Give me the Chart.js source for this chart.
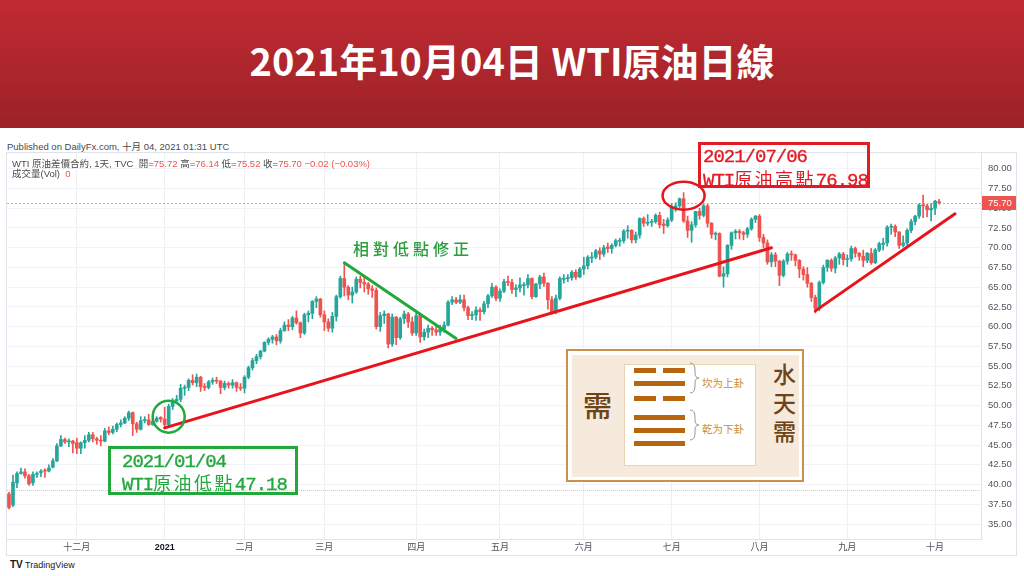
<!DOCTYPE html>
<html>
<head>
<meta charset="utf-8">
<script src="https://cdn.jsdelivr.net/npm/chart.js@4.4.1/dist/chart.umd.min.js"></script>
<style>
  body { margin: 0; width: 1024px; height: 576px; position: relative; overflow: hidden; background: #fff;
         font-family: 'Liberation Sans', 'Noto Sans CJK TC', sans-serif; }
  .abs { position: absolute; white-space: nowrap; }
  #head { left: 0; top: 0; width: 1024px; height: 128px; background: linear-gradient(#c02b32, #9d2128); }
  #title { left: 0; width: 1024px; top: 32px; line-height: 52px; text-align: center; color: #fff;
           font: bold 38px 'Noto Sans CJK TC', sans-serif; }
  #pub { left: 7px; top: 139px; font-size: 9.5px; color: #4a4a4a; }
  #frame { left: 6px; top: 152px; width: 1009px; height: 402px; border: 1px solid #e0e3eb; }
  #chart { position: absolute; left: 7px; top: 153px; }
  .leg { left: 12px; font-size: 9.5px; color: #4a4a4a; }
  .leg b { font-weight: normal; color: #ef5350; }
  .box { box-sizing: border-box; border: 3px solid; }
  .note { font-family: 'Liberation Mono', monospace; font-size: 19px; letter-spacing: -1px; line-height: 20px;
          -webkit-text-stroke: 0.35px; }
  .note .cj { font-family: 'Noto Sans CJK TC'; font-size: 18px; letter-spacing: 2.4px; -webkit-text-stroke: 0; }
  #tv { left: 10px; top: 559px; font-size: 9px; color: #131722; }
  .bar { position: absolute; height: 5px; background: #b5660f; }
</style>
</head>
<body>
<div id="head" class="abs"></div>
<div id="title" class="abs">2021年10月04日 WTI原油日線</div>
<div id="pub" class="abs">Published on DailyFx.com, 十月 04, 2021 01:31 UTC</div>
<div id="frame" class="abs"></div>
<canvas id="chart" width="1009" height="403"></canvas>
<div class="abs leg" style="top:156px">WTI 原油差價合約, 1天, TVC &nbsp;開=<b>75.72</b> 高=<b>76.14</b> 低=<b>75.52</b> 收=<b>75.70</b> <b>−0.02 (−0.03%)</b></div>
<div class="abs leg" style="top:166px">成交量(Vol) &nbsp;<b>0</b></div>

<!-- note boxes -->
<div class="abs box" style="left:108px;top:446px;width:190px;height:49px;border-color:#22a83b"></div>
<div class="abs note" style="left:122px;top:452px;color:#22a83b">2021/01/04</div>
<div class="abs note" style="left:122px;top:472px;color:#22a83b">WTI<span class="cj">原油低點</span>47.18</div>
<div class="abs box" style="left:698px;top:142px;width:172px;height:46px;border-color:#e31b23"></div>
<div class="abs note" style="left:703px;top:147px;color:#e31b23">2021/07/06</div>
<div class="abs note" style="left:703px;top:168px;color:#e31b23">WTI<span class="cj">原油高點</span>76.98</div>
<div class="abs" style="left:353px;top:240px;font:500 16px 'Noto Sans CJK TC';letter-spacing:4px;line-height:16px;color:#2a9d3c">相對低點修正</div>

<!-- hexagram card -->
<div class="abs" style="left:566px;top:349px;width:238px;height:133px;box-sizing:border-box;border:2px solid #c9924c;background:#fff"></div>
<div class="abs" style="left:572px;top:355px;width:227px;height:122px;background:#f6eadc"></div>
<div class="abs" style="left:624px;top:364px;width:132px;height:102px;box-sizing:border-box;border:1px solid #e8d3b2;background:#fff"></div>
<div class="bar" style="left:634px;top:368px;width:22px"></div><div class="bar" style="left:663px;top:368px;width:22px"></div>
<div class="bar" style="left:634px;top:381px;width:51px"></div>
<div class="bar" style="left:634px;top:396px;width:22px"></div><div class="bar" style="left:663px;top:396px;width:22px"></div>
<div class="bar" style="left:634px;top:415px;width:51px"></div>
<div class="bar" style="left:634px;top:428px;width:51px"></div>
<div class="bar" style="left:634px;top:441px;width:51px"></div>
<svg class="abs" style="left:688px;top:360px" width="14" height="90">
  <path d="M2 3 Q7 3 7 10 L7 13 Q7 18 11 18 Q7 18 7 23 L7 26 Q7 33 2 33" fill="none" stroke="#999" stroke-width="1"/>
  <path d="M2 50 Q7 50 7 57 L7 60 Q7 65 11 65 Q7 65 7 70 L7 73 Q7 80 2 80" fill="none" stroke="#999" stroke-width="1"/>
</svg>
<div class="abs" style="left:702px;top:376px;font:10.5px 'Noto Sans CJK TC';line-height:14px;color:#c98b3a">坎为上卦</div>
<div class="abs" style="left:702px;top:422px;font:10.5px 'Noto Sans CJK TC';line-height:14px;color:#c98b3a">乾为下卦</div>
<div class="abs" style="left:583px;top:388px;font:500 29px 'Noto Sans CJK TC';line-height:32px;color:#6e4318">需</div>
<div class="abs" style="left:773px;top:359px;width:24px;font:500 23px 'Noto Sans CJK TC';line-height:28.5px;color:#6e4318;white-space:normal">水天需</div>

<div id="tv" class="abs"><b style="font-size:10px">TV</b> TradingView</div>

<script>
// trading days shown on the chart
const dates = [
  '2020-11-06','2020-11-09','2020-11-10','2020-11-11','2020-11-12','2020-11-13','2020-11-16','2020-11-17','2020-11-18','2020-11-19','2020-11-20','2020-11-23','2020-11-24','2020-11-25','2020-11-26','2020-11-27','2020-11-30',
  '2020-12-01','2020-12-02','2020-12-03','2020-12-04','2020-12-07','2020-12-08','2020-12-09','2020-12-10','2020-12-11','2020-12-14','2020-12-15','2020-12-16','2020-12-17','2020-12-18','2020-12-21','2020-12-22','2020-12-23','2020-12-24','2020-12-28','2020-12-29','2020-12-30','2020-12-31',
  '2021-01-04','2021-01-05','2021-01-06','2021-01-07','2021-01-08','2021-01-11','2021-01-12','2021-01-13','2021-01-14','2021-01-15','2021-01-18','2021-01-19','2021-01-20','2021-01-21','2021-01-22','2021-01-25','2021-01-26','2021-01-27','2021-01-28','2021-01-29',
  '2021-02-01','2021-02-02','2021-02-03','2021-02-04','2021-02-05','2021-02-08','2021-02-09','2021-02-10','2021-02-11','2021-02-12','2021-02-15','2021-02-16','2021-02-17','2021-02-18','2021-02-19','2021-02-22','2021-02-23','2021-02-24','2021-02-25','2021-02-26',
  '2021-03-01','2021-03-02','2021-03-03','2021-03-04','2021-03-05','2021-03-08','2021-03-09','2021-03-10','2021-03-11','2021-03-12','2021-03-15','2021-03-16','2021-03-17','2021-03-18','2021-03-19','2021-03-22','2021-03-23','2021-03-24','2021-03-25','2021-03-26','2021-03-29','2021-03-30','2021-03-31',
  '2021-04-01','2021-04-05','2021-04-06','2021-04-07','2021-04-08','2021-04-09','2021-04-12','2021-04-13','2021-04-14','2021-04-15','2021-04-16','2021-04-19','2021-04-20','2021-04-21','2021-04-22','2021-04-23','2021-04-26','2021-04-27','2021-04-28','2021-04-29','2021-04-30',
  '2021-05-03','2021-05-04','2021-05-05','2021-05-06','2021-05-07','2021-05-10','2021-05-11','2021-05-12','2021-05-13','2021-05-14','2021-05-17','2021-05-18','2021-05-19','2021-05-20','2021-05-21','2021-05-24','2021-05-25','2021-05-26','2021-05-27','2021-05-28','2021-05-31',
  '2021-06-01','2021-06-02','2021-06-03','2021-06-04','2021-06-07','2021-06-08','2021-06-09','2021-06-10','2021-06-11','2021-06-14','2021-06-15','2021-06-16','2021-06-17','2021-06-18','2021-06-21','2021-06-22','2021-06-23','2021-06-24','2021-06-25','2021-06-28','2021-06-29','2021-06-30',
  '2021-07-01','2021-07-02','2021-07-05','2021-07-06','2021-07-07','2021-07-08','2021-07-09','2021-07-12','2021-07-13','2021-07-14','2021-07-15','2021-07-16','2021-07-19','2021-07-20','2021-07-21','2021-07-22','2021-07-23','2021-07-26','2021-07-27','2021-07-28','2021-07-29','2021-07-30',
  '2021-08-02','2021-08-03','2021-08-04','2021-08-05','2021-08-06','2021-08-09','2021-08-10','2021-08-11','2021-08-12','2021-08-13','2021-08-16','2021-08-17','2021-08-18','2021-08-19','2021-08-20','2021-08-23','2021-08-24','2021-08-25','2021-08-26','2021-08-27','2021-08-30','2021-08-31',
  '2021-09-01','2021-09-02','2021-09-03','2021-09-06','2021-09-07','2021-09-08','2021-09-09','2021-09-10','2021-09-13','2021-09-14','2021-09-15','2021-09-16','2021-09-17','2021-09-20','2021-09-21','2021-09-22','2021-09-23','2021-09-24','2021-09-27','2021-09-28','2021-09-29','2021-09-30',
  '2021-10-01','2021-10-04'
];

const opens = [
  38.8, 37.4, 40.2, 41.4, 41.6, 41.1, 40.2, 41.3, 41.5, 41.8, 41.7, 42.2, 43.0, 44.9, 45.7, 45.4, 45.5,
  45.3, 44.6, 45.3, 45.6, 46.3, 45.8, 45.6, 45.5, 46.8, 46.6, 47.0, 47.6, 47.8, 48.4, 49.1, 47.7, 47.0, 48.1, 48.2, 47.6, 48.0, 48.5,
  48.3, 47.6, 49.9, 50.6, 50.8, 52.2, 52.3, 53.2, 52.9, 53.6, 52.4, 52.3, 53.0, 53.2, 53.1, 52.3, 52.8, 52.6, 52.9, 52.3,
  52.2, 53.6, 54.8, 55.7, 56.2, 56.9, 58.0, 58.4, 58.7, 58.2, 59.5, 60.2, 60.0, 61.1, 60.5, 59.2, 61.5, 61.7, 63.2, 63.5,
  61.5, 60.6, 59.8, 61.3, 63.8, 66.1, 65.0, 64.0, 64.4, 66.0, 65.6, 65.4, 64.8, 64.6, 60.0, 61.4, 61.6, 57.8, 61.2, 58.6, 61.0, 61.6, 60.6,
  59.2, 61.4, 58.7, 59.3, 59.8, 59.6, 59.3, 59.7, 60.2, 63.1, 63.4, 63.1, 63.4, 62.4, 61.4, 61.5, 62.1, 61.9, 62.9, 63.9, 65.0,
  63.6, 64.5, 65.7, 65.6, 64.7, 64.9, 65.2, 65.3, 66.1, 63.8, 65.4, 66.3, 65.5, 63.4, 61.9, 63.6, 66.0, 66.1, 66.2, 66.9, 66.3,
  67.3, 67.7, 68.7, 68.8, 69.6, 69.2, 70.1, 69.9, 70.3, 70.8, 70.9, 72.1, 72.2, 71.0, 71.6, 73.7, 73.1, 73.2, 73.3, 74.1, 73.0, 72.8,
  73.5, 75.0, 75.3, 76.2, 73.4, 72.2, 72.9, 74.6, 74.1, 75.3, 73.1, 71.7, 71.8, 66.4, 66.7, 70.3, 71.9, 72.1, 71.9, 71.7, 72.4, 73.6,
  74.0, 71.3, 70.6, 68.2, 69.1, 68.3, 66.5, 68.3, 69.2, 69.1, 68.4, 67.3, 66.6, 65.5, 63.7, 62.3, 65.6, 67.5, 68.4, 67.4, 68.7, 69.2,
  68.5, 68.6, 69.9, 69.3, 68.9, 68.4, 69.3, 68.1, 69.7, 70.4, 70.6, 72.6, 72.7, 72.0, 70.3, 70.6, 72.2, 73.3, 74.0, 75.4, 75.3, 74.8,
  75.0, 75.72
];
const highs = [
  39.0, 41.2, 41.6, 42.1, 42.0, 41.3, 41.6, 41.6, 41.9, 42.0, 42.5, 43.3, 45.2, 46.2, 45.9, 45.8, 45.6,
  45.9, 45.4, 46.2, 46.6, 46.6, 46.0, 46.2, 47.1, 47.3, 47.4, 47.8, 48.2, 48.6, 49.3, 49.2, 47.9, 48.6, 48.6, 48.9, 48.4, 48.6, 48.6,
  49.8, 50.2, 50.9, 51.3, 52.7, 52.6, 53.4, 53.9, 54.0, 53.7, 52.8, 53.2, 53.5, 53.6, 53.2, 53.1, 53.0, 53.3, 53.0, 52.8,
  53.8, 55.0, 56.0, 56.5, 57.0, 58.1, 58.6, 58.9, 59.0, 59.8, 60.6, 60.9, 61.3, 62.0, 60.6, 61.7, 62.0, 63.3, 63.8, 63.6,
  62.0, 61.0, 61.8, 64.0, 66.4, 67.98, 65.2, 65.0, 66.3, 66.4, 66.3, 65.6, 65.2, 64.9, 61.8, 62.0, 61.7, 61.6, 61.3, 61.2, 62.0, 61.8, 61.2,
  61.7, 61.5, 59.7, 60.2, 60.0, 60.1, 60.2, 60.6, 63.3, 63.8, 63.7, 64.0, 64.0, 62.6, 61.9, 62.5, 62.4, 63.2, 64.1, 65.5, 65.2,
  64.8, 66.0, 66.4, 66.0, 65.3, 66.2, 65.6, 66.6, 66.2, 65.5, 66.5, 66.8, 65.6, 63.8, 64.0, 66.3, 66.6, 66.6, 67.1, 67.2, 67.5,
  68.8, 69.0, 69.4, 69.8, 70.0, 70.3, 70.6, 70.5, 71.1, 71.2, 72.3, 72.8, 72.3, 72.0, 73.8, 73.9, 74.2, 73.6, 74.3, 74.5, 73.6, 73.8,
  75.6, 75.7, 76.3, 76.98, 74.0, 73.3, 74.6, 75.0, 75.5, 75.5, 73.2, 72.0, 71.9, 67.6, 70.4, 72.0, 72.3, 72.3, 72.1, 72.6, 73.8, 74.1,
  74.2, 71.7, 71.0, 69.4, 69.4, 68.4, 68.5, 69.4, 69.6, 69.2, 68.5, 67.6, 67.5, 65.6, 64.0, 65.8, 67.8, 68.5, 68.6, 68.9, 69.4, 69.4,
  69.1, 70.2, 70.1, 69.4, 69.7, 69.4, 69.9, 69.9, 70.7, 71.2, 72.8, 73.0, 72.9, 72.0, 71.5, 72.4, 73.6, 74.1, 75.6, 76.67, 75.5, 75.6,
  76.0, 76.14
];
const lows = [
  36.9, 37.2, 39.6, 41.3, 40.8, 39.9, 39.9, 40.9, 41.0, 40.9, 41.6, 42.1, 42.9, 44.8, 45.2, 44.8, 44.0,
  43.9, 43.9, 44.6, 45.4, 45.4, 45.1, 44.9, 45.4, 46.3, 46.4, 46.7, 47.3, 47.7, 48.1, 46.2, 46.6, 46.9, 47.8, 47.5, 47.5, 47.9, 47.9,
  47.18, 47.3, 49.5, 50.3, 50.5, 51.3, 51.9, 52.6, 52.4, 51.8, 51.9, 52.1, 52.7, 52.8, 51.5, 52.0, 52.2, 52.2, 51.8, 51.9,
  51.6, 53.4, 54.5, 55.3, 55.9, 56.8, 57.7, 57.9, 57.7, 57.9, 59.4, 59.5, 59.6, 60.3, 58.6, 59.0, 60.6, 61.0, 62.4, 61.2,
  59.5, 59.4, 59.3, 60.7, 63.6, 63.9, 63.4, 63.0, 64.2, 64.9, 64.4, 64.1, 63.7, 59.7, 59.4, 60.4, 57.3, 57.5, 57.7, 58.4, 60.4, 59.9, 58.9,
  58.9, 58.0, 58.3, 58.6, 58.9, 58.9, 58.9, 59.3, 60.1, 62.8, 62.9, 62.9, 62.0, 60.9, 60.9, 60.8, 60.8, 61.6, 62.4, 63.7, 63.3,
  63.2, 64.3, 65.2, 64.2, 63.8, 64.4, 64.0, 64.9, 63.5, 63.7, 64.8, 65.1, 62.2, 61.6, 61.6, 63.4, 65.5, 65.7, 65.9, 66.0, 66.2,
  66.6, 67.3, 68.1, 68.6, 68.5, 68.9, 69.4, 69.3, 70.1, 70.2, 70.6, 71.2, 70.6, 70.6, 71.2, 72.7, 72.8, 72.7, 73.1, 72.5, 71.8, 72.6,
  73.3, 74.6, 74.9, 73.2, 71.3, 70.7, 72.6, 73.6, 73.9, 72.6, 71.2, 71.0, 66.3, 65.0, 66.3, 69.8, 71.1, 71.1, 71.0, 71.3, 72.2, 73.2,
  70.8, 70.0, 67.9, 67.6, 67.6, 65.2, 66.3, 67.9, 68.4, 67.7, 66.2, 65.9, 65.0, 63.2, 61.74, 62.0, 65.4, 67.0, 67.0, 66.8, 67.9, 67.8,
  67.6, 68.3, 68.8, 68.4, 67.6, 68.1, 67.9, 68.0, 69.5, 69.7, 70.2, 71.7, 71.4, 69.9, 70.1, 70.3, 71.9, 72.9, 73.7, 73.8, 73.9, 73.4,
  74.2, 75.52
];
const closes = [
  37.1, 40.3, 41.4, 41.6, 41.1, 40.1, 41.3, 41.4, 41.7, 41.7, 42.1, 43.0, 44.9, 45.7, 45.4, 45.5, 45.2,
  44.6, 45.3, 45.6, 46.3, 45.8, 45.6, 45.5, 46.8, 46.6, 47.0, 47.6, 47.8, 48.4, 49.1, 47.7, 47.0, 48.1, 48.2, 47.6, 48.0, 48.4, 48.3,
  47.6, 49.9, 50.6, 50.8, 52.2, 52.3, 53.2, 52.9, 53.6, 52.4, 52.3, 53.0, 53.2, 53.1, 52.3, 52.8, 52.6, 52.9, 52.3, 52.2,
  53.6, 54.8, 55.7, 56.2, 56.9, 58.0, 58.4, 58.7, 58.2, 59.5, 60.2, 60.0, 61.1, 60.5, 59.2, 61.5, 61.7, 63.2, 63.5, 61.5,
  60.6, 59.8, 61.3, 63.8, 66.1, 65.0, 64.0, 64.4, 66.0, 65.6, 65.4, 64.8, 64.6, 60.0, 61.4, 61.6, 57.8, 61.2, 58.6, 61.0, 61.6, 60.6, 59.2,
  61.4, 58.7, 59.3, 59.8, 59.6, 59.3, 59.7, 60.2, 63.1, 63.4, 63.1, 63.4, 62.4, 61.4, 61.5, 62.1, 61.9, 62.9, 63.9, 65.0, 63.6,
  64.5, 65.7, 65.6, 64.7, 64.9, 65.3, 65.3, 66.1, 63.8, 65.4, 66.3, 65.5, 63.4, 61.9, 63.6, 66.1, 66.1, 66.2, 66.9, 66.3, 67.3,
  67.7, 68.8, 68.8, 69.6, 69.2, 70.0, 69.9, 70.3, 70.9, 70.9, 72.1, 72.2, 71.0, 71.6, 73.7, 73.1, 73.2, 73.3, 74.1, 72.9, 72.8, 73.5,
  75.2, 75.3, 76.2, 73.4, 72.2, 72.9, 74.6, 74.1, 75.3, 73.1, 71.7, 71.8, 66.4, 66.7, 70.3, 71.9, 72.1, 71.9, 71.7, 72.4, 73.6, 74.0,
  71.3, 70.6, 68.2, 69.1, 68.3, 66.5, 68.3, 69.2, 69.1, 68.4, 67.3, 66.6, 65.5, 63.7, 62.3, 65.6, 67.5, 68.4, 67.4, 68.7, 69.2, 68.5,
  68.6, 69.9, 69.3, 68.9, 68.4, 69.3, 68.1, 69.7, 70.5, 70.6, 72.6, 72.7, 72.0, 70.3, 70.6, 72.2, 73.3, 74.0, 75.4, 75.3, 74.8, 75.0,
  75.9, 75.70
];

// axis ticks
const tickDates = ['2020-12-01','2021-01-04','2021-02-01','2021-03-01','2021-04-01','2021-05-03','2021-06-01','2021-07-01','2021-08-02','2021-09-01','2021-10-01'];
const tickLabels = ['十二月','2021','二月','三月','四月','五月','六月','七月','八月','九月','十月'];
const yTicks = [35, 37.5, 40, 42.5, 45, 47.5, 50, 52.5, 55, 57.5, 60, 62.5, 65, 67.5, 70, 72.5, 75, 77.5, 80];
const lastPrice = 75.70;
const refLine = 39.3;

// hand-drawn marks on the chart: [date or bar index, price]
const trendLines = [
  { from: ['2021-01-04', 47.18], to: ['2021-08-05', 70.0], color: '#e8141c' },
  { from: ['2021-08-20', 62.0], to: [237, 74.3], color: '#e8141c' },
  { from: ['2021-03-08', 68.1], to: ['2021-04-16', 58.5], color: '#22a83b' }
];
const rings = [
  { at: ['2021-01-05', 48.6], rx: 16, ry: 16, color: '#22a83b' },
  { at: ['2021-07-06', 76.6], rx: 21, ry: 14, color: '#e8141c' }
];

const blankBars = 10;
const labels = dates.concat(Array(blankBars).fill(''));
const monthIdx = tickDates.map(d => dates.indexOf(d));
const up = '#26a69a', down = '#ef5350';
const colors = closes.map((c, i) => c >= opens[i] ? up : down);

const overlay = {
  id: 'overlay',
  beforeDatasetsDraw(chart) {
    const { ctx, chartArea: a, scales: { y } } = chart;
    ctx.save();
    ctx.lineWidth = 1;
    let py = Math.round(y.getPixelForValue(refLine)) + 0.5;
    ctx.setLineDash([1, 3]);
    ctx.strokeStyle = 'rgba(239,83,80,0.4)';
    ctx.beginPath(); ctx.moveTo(a.left, py); ctx.lineTo(a.right, py); ctx.stroke();
    ctx.lineDashOffset = 2;
    ctx.strokeStyle = 'rgba(38,166,154,0.4)';
    ctx.beginPath(); ctx.moveTo(a.left, py); ctx.lineTo(a.right, py); ctx.stroke();
    ctx.lineDashOffset = 0;
    ctx.setLineDash([2, 2]);
    py = Math.round(y.getPixelForValue(lastPrice)) + 0.5;
    ctx.strokeStyle = 'rgba(239,83,80,0.6)';
    ctx.beginPath(); ctx.moveTo(a.left, py); ctx.lineTo(a.right, py); ctx.stroke();
    ctx.restore();
  },
  afterDatasetsDraw(chart) {
    const { ctx, scales: { x, y } } = chart;
    const px = d => x.getPixelForValue(typeof d === 'number' ? d : dates.indexOf(d));
    ctx.save();
    ctx.lineCap = 'round';
    trendLines.forEach(l => {
      ctx.strokeStyle = l.color;
      ctx.lineWidth = 3;
      ctx.beginPath();
      ctx.moveTo(px(l.from[0]), y.getPixelForValue(l.from[1]));
      ctx.lineTo(px(l.to[0]), y.getPixelForValue(l.to[1]));
      ctx.stroke();
    });
    rings.forEach(r => {
      ctx.strokeStyle = r.color;
      ctx.lineWidth = 2.5;
      ctx.beginPath();
      ctx.ellipse(px(r.at[0]), y.getPixelForValue(r.at[1]), r.rx, r.ry, 0, 0, Math.PI * 2);
      ctx.stroke();
    });
    ctx.restore();
  },
  afterDraw(chart) {
    const { ctx, chartArea: a, scales: { y } } = chart;
    const py = Math.round(y.getPixelForValue(lastPrice));
    ctx.save();
    ctx.fillStyle = '#ef5350';
    ctx.fillRect(a.right + 1, py - 7, 34, 14);
    ctx.fillStyle = '#fff';
    ctx.font = '9.5px "Liberation Sans"';
    ctx.textBaseline = 'middle';
    ctx.fillText(lastPrice.toFixed(2), a.right + 7, py + 0.5);
    ctx.restore();
  }
};

new Chart(document.getElementById('chart'), {
  type: 'bar',
  data: {
    labels: labels,
    datasets: [
      { data: lows.map((l, i) => [l, highs[i]]), backgroundColor: colors, barThickness: 1, grouped: false, order: 2 },
      { data: opens.map((o, i) => [o, closes[i]]), backgroundColor: colors, barThickness: 3, minBarLength: 1, grouped: false, order: 1 }
    ]
  },
  options: {
    responsive: false,
    animation: false,
    devicePixelRatio: 1,
    layout: { padding: 0 },
    plugins: { legend: { display: false }, tooltip: { enabled: false } },
    scales: {
      x: {
        grid: {
          offset: false,
          drawTicks: false,
          color: c => monthIdx.includes(c.index) ? '#eef0f4' : 'rgba(0,0,0,0)'
        },
        border: { color: '#e0e3eb' },
        ticks: {
          autoSkip: false,
          maxRotation: 0,
          padding: 3,
          color: c => c.tick && c.tick.label === '2021' ? '#131722' : '#50535e',
          font: c => ({ size: 9, family: "'Liberation Sans', 'Noto Sans CJK TC'", weight: c.tick && c.tick.label === '2021' ? 'bold' : 'normal' }),
          callback: (v, i) => {
            const k = monthIdx.indexOf(i);
            return k >= 0 ? tickLabels[k] : '';
          }
        },
        afterFit: s => { s.height = 17; s.paddingLeft = 0; s.paddingRight = 0; }
      },
      y: {
        position: 'right',
        min: 33.1,
        max: 82.0,
        grid: { color: '#f0f3fa', drawTicks: false },
        border: { color: '#e0e3eb' },
        ticks: {
          padding: 7,
          color: '#50535e',
          font: { size: 9.5, family: "'Liberation Sans'" },
          callback: v => v.toFixed(2)
        },
        afterBuildTicks: s => { s.ticks = yTicks.map(v => ({ value: v })); },
        afterFit: s => { s.width = 35; s.paddingTop = 0; s.paddingBottom = 0; }
      }
    }
  },
  plugins: [overlay]
});
</script>
</body>
</html>
